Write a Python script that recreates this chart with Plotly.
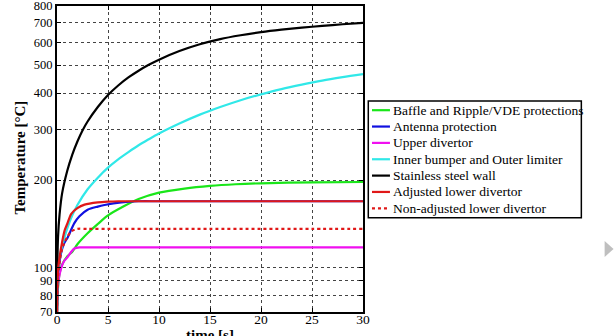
import plotly.graph_objects as go
import numpy as np

# ---- data ----
t_green = [0, 0.1, 0.25, 0.5, 1, 1.5, 2, 3, 4, 5, 6.5, 8, 10, 12.5, 15, 17.5, 20, 25, 30]
v_green = [70, 85, 95, 102, 109, 113, 120, 131, 141, 151, 162, 172, 181, 187, 191, 193.5, 195, 196.5, 197]

t_blue = [0, 0.1, 0.4, 0.7, 1.06, 1.7, 2.2, 3, 4, 4.65, 6.3, 8, 10, 15, 20, 25, 30]
v_blue = [70, 92, 112, 121, 127, 142, 150, 158, 162, 164, 167.5, 169, 169, 169, 169, 169, 169]

t_magenta = [0, 0.08, 0.2, 0.4, 0.7, 1.06, 1.4, 1.7, 2.2, 3, 5, 10, 15, 20, 25, 30]
v_magenta = [70, 85, 92, 99, 105, 108.6, 113, 116, 117, 117, 117, 117, 117, 117, 117, 117]

t_cyan = [0, 0.1, 0.25, 0.5, 1, 1.5, 2, 3, 4, 5, 6, 7, 8, 9, 10, 12, 14, 16, 18, 20, 22, 24, 26, 28, 30]
v_cyan = [70, 95, 108, 118, 136, 151, 164, 186, 204, 221, 236, 250, 264, 277, 290, 314, 337, 358, 378, 396, 413, 428, 442, 454, 465]

t_black = [0, 0.03, 0.1, 0.25, 0.5, 1, 1.5, 2, 2.5, 3, 4, 5, 6, 7, 8, 9, 10, 12, 14, 16, 18, 20, 22, 24, 26, 28, 30]
v_black = [70, 100, 127, 152, 180, 215, 245, 272, 297, 319, 358, 394, 425, 453, 478, 501, 522, 559, 590, 615, 634, 650, 663, 674, 683, 692, 700]

t_red = [0, 0.02, 0.1, 0.25, 0.5, 0.75, 1, 1.4, 2, 2.7, 4, 5, 6, 8, 10, 15, 20, 25, 30]
v_red = [70, 85, 98, 108, 122, 134, 141, 153, 160, 164.5, 167.5, 168.5, 169, 169, 169, 169, 169, 169, 169]

t_red_dot = [0, 0.1, 0.4, 0.7, 1, 1.4, 2, 3, 5, 10, 15, 20, 25, 30]
v_red_dot = [70, 92, 112, 121, 127, 133, 135.6, 135.6, 135.6, 135.6, 135.6, 135.6, 135.6, 135.6]

names = ["Baffle and Ripple/VDE protections", "Antenna protection", "Upper divertor",
         "Inner bumper and Outer limiter", "Stainless steel wall", "Adjusted lower divertor",
         "Non-adjusted lower divertor"]

y_ticks = [70, 80, 90, 100, 200, 300, 400, 500, 600, 700, 800]
x_ticks = [0, 5, 10, 15, 20, 25, 30]

series = [
    (t_green, v_green, "#19e619", "solid"),
    (t_blue, v_blue, "#1010e0", "solid"),
    (t_magenta, v_magenta, "#f010f0", "solid"),
    (t_cyan, v_cyan, "#30e8e8", "solid"),
    (t_black, v_black, "#000000", "solid"),
    (t_red, v_red, "#e01818", "solid"),
    (t_red_dot, v_red_dot, "#e01818", "dot"),
]

FONT = "Liberation Serif"

fig = go.Figure()
for (tx, vy, col, dash), nm in zip(series, names):
    fig.add_trace(go.Scatter(x=tx, y=vy, mode="lines", name=nm, showlegend=False,
                             line=dict(color=col, width=2.2, dash=dash, shape="spline", smoothing=0.8)))

W, H = 616, 336
L, R, T, B = 56.5, 253, 6, 24
pw, ph = W - L - R, H - T - B

def px(x):
    return (x - L) / pw

def py(y):
    return (H - B - y) / ph

# manual legend (box, line samples, labels) in paper coordinates
shapes = [
    dict(type="rect", xref="paper", yref="paper",
         x0=px(368.3), x1=px(581.7), y0=py(217.7), y1=py(101),
         line=dict(color="black", width=1.5), fillcolor="white", layer="above"),
]
annotations = []
item_y0, item_dy = 110.2, 16.35
for i, ((tx, vy, col, dash), nm) in enumerate(zip(series, names)):
    yc = item_y0 + i * item_dy
    shapes.append(dict(type="line", xref="paper", yref="paper",
                       x0=px(372), x1=px(390), y0=py(yc), y1=py(yc),
                       line=dict(color=col, width=2.2, dash=dash), layer="above"))
    annotations.append(dict(text=nm, xref="paper", yref="paper", x=px(391.5), y=py(yc),
                            xanchor="left", yanchor="middle", showarrow=False,
                            font=dict(family=FONT, size=13.5, color="black")))

annotations += [
    dict(text="<b>Temperature [°C]</b>", xref="paper", yref="paper",
         x=px(19), y=py(158), textangle=-90, showarrow=False,
         xanchor="center", yanchor="middle", font=dict(family=FONT, size=15)),
    dict(text="<b>time [s]</b>", xref="paper", yref="paper",
         x=px(210), y=py(335), showarrow=False,
         xanchor="center", yanchor="middle", font=dict(family=FONT, size=15)),
]

shapes.append(dict(type="path", xref="paper", yref="paper",
                   path=f"M {px(605)} {py(241)} L {px(614)} {py(249)} L {px(605)} {py(257)} Z",
                   fillcolor="#bfbfbf", line=dict(width=0)))

eps = 2e-4
fig.update_layout(
    width=W, height=H,
    margin=dict(l=L, r=R, t=T, b=B, pad=0, autoexpand=False),
    paper_bgcolor="white", plot_bgcolor="white",
    font=dict(family=FONT, size=13, color="black"),
    showlegend=False,
    xaxis=dict(range=[0, 30], tickvals=x_ticks, ticktext=[str(v) for v in x_ticks],
               showgrid=True, gridcolor="#444444", griddash="dot", gridwidth=0.8,
               zeroline=False, showline=True, linecolor="black", linewidth=2, mirror="allticks",
               ticks="inside", ticklen=4, tickcolor="black", tickfont=dict(size=13.5),
               ticklabelstandoff=-6, ticklabeloverflow="allow", automargin=False),
    yaxis=dict(type="log", range=[np.log10(70) - eps, np.log10(800) + eps], tickvals=y_ticks,
               ticktext=[str(v) for v in y_ticks],
               showgrid=True, gridcolor="#444444", griddash="dot", gridwidth=0.8,
               zeroline=False, showline=True, linecolor="black", linewidth=2, mirror="allticks",
               ticks="inside", ticklen=4, tickcolor="black", tickfont=dict(size=12.5),
               ticklabeloverflow="allow", automargin=False),
    annotations=annotations,
    shapes=shapes,
)

fig.write_html("out.html")
